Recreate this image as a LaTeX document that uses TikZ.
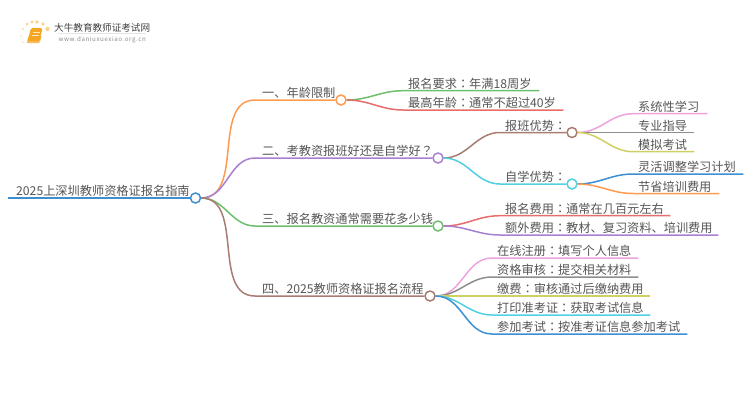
\documentclass[tikz,border=0pt]{standalone}
\usepackage{fontspec}
\setmainfont{Noto Sans CJK SC}
\newfontfamily\cjkpunct{Noto Sans CJK TC}
\usepackage{xcolor}
\usetikzlibrary{positioning}
\definecolor{mtext}{HTML}{555555}
\definecolor{mblue}{HTML}{3D8FD1}
\definecolor{morange}{HTML}{FF9B50}
\definecolor{mpurple}{HTML}{A97FD2}
\definecolor{mgreen}{HTML}{6CC06C}
\definecolor{mbrown}{HTML}{A87C70}
\definecolor{mred}{HTML}{E86C6C}
\definecolor{mpink}{HTML}{F0A2DC}
\definecolor{mgray}{HTML}{8E8E8E}
\definecolor{molive}{HTML}{CFCF62}
\definecolor{mcyan}{HTML}{52D0E2}
\definecolor{mbook}{HTML}{F5A623}
\definecolor{mdot}{HTML}{FBD38A}
\newcommand{\mcol}{{\cjkpunct ：}}
\tikzset{
  topic/.style={anchor=south west, inner xsep=7pt, inner ysep=1pt, text=mtext,
                font=\fontsize{12.2}{14}\selectfont},
  leaf/.style={anchor=south west, inner xsep=5pt, inner ysep=1pt, text=mtext,
               font=\fontsize{12.2}{14}\selectfont, text width=#1, align=left},
  dot/.style={circle, draw, fill=white, line width=1.5pt, minimum size=10pt, inner sep=0pt},
  link/.style={line width=1.5pt},
}

\begin{document}
\begin{tikzpicture}[x=1pt, y=-1pt]
  \useasboundingbox (0,0) rectangle (750,410);
  % logo
  \foreach \x/\y/\r in {27/24/1.5, 32/22/1.7, 37/22/1.8, 43/24/1.9, 47.5/29/2.2}
    \fill[mdot] (\x,\y) circle (\r);
  \foreach \x/\y/\r in {23/29/1.3, 21/36/1.2, 23/42/1}
    \fill[mdot!60] (\x,\y) circle (\r);
  \fill[mbook!75!white, rounded corners=1pt] (28.5,36) -- (42,36) -- (39.5,43) -- (26.5,43) -- cycle;
  \fill[mbook, rounded corners=1.5pt] (31,28) -- (42.5,28) -- (39.5,41) -- (27.5,41) -- cycle;
  \draw[white!70!mbook, line width=0.8pt] (32.5,32) -- (39.5,32) (32,35) -- (38.5,35);
  \node[anchor=base west, inner sep=0pt, text=black!75, font=\fontsize{9.6}{11}\selectfont] (logotitle) at (54,31) {大牛教育教师证考试网};
  \node[anchor=base west, inner sep=0pt, text=black!45, font=\fontsize{6.2}{8}\selectfont, below=4.5pt of logotitle.south, xshift=0pt] (logourl) {\addfontfeature{LetterSpace=9}www.daniuxuexiao.org.cn};
  \draw[black!10, line width=0.6pt] (logotitle.south west) ++(4,1.5) -- ++(88,0);

  % root and branch dots
  \node[topic, inner xsep=8pt] (title) at (8,198) {2025上深圳教师资格证报名指南};
  \node[dot, draw=mblue] (root) at (195.5,198) {};
  \node[dot, draw=morange] (c1) at (341,100) {};
  \node[dot, draw=mpurple] (c2) at (438,158) {};
  \node[dot, draw=mgreen] (c3) at (438,226) {};
  \node[dot, draw=mbrown] (c4) at (430,296) {};
  \node[dot, draw=mbrown] (c21) at (572,132.5) {};
  \node[dot, draw=mcyan] (c22) at (572,184) {};

  % branch labels
  \node[topic] (b1) at (255,100) {一、年龄限制};
  \node[topic] (b2) at (255,158) {二、考教资报班好还是自学好{\cjkpunct ？}};
  \node[topic] (b3) at (255,226) {三、报名教资通常需要花多少钱};
  \node[topic] (b4) at (255,296) {四、2025教师资格证报名流程};
  \node[leaf=58pt] (b21) at (500,132.5) {报班优势\mcol};
  \node[leaf=58pt] (b22) at (500,184) {自学优势\mcol};

  % leaves
  \node[leaf=126pt] (l11) at (403,90.7) {报名要求\mcol 年满18周岁};
  \node[leaf=150pt] (l12) at (403,110) {最高年龄\mcol 通常不超过40岁};
  \node[leaf=64pt] (l211) at (633,113.7) {系统性学习};
  \node[leaf=51pt] (l212) at (633,132.5) {专业指导};
  \node[leaf=51pt] (l213) at (633,151.7) {模拟考试};
  \node[leaf=100pt] (l221) at (633,174) {灵活调整学习计划};
  \node[leaf=76pt] (l222) at (633,193.5) {节省培训费用};
  \node[leaf=160pt] (l31) at (500,215.7) {报名费用\mcol 通常在几百元左右};
  \node[leaf=208pt] (l32) at (500,235) {额外费用\mcol 教材、复习资料、培训费用};
  \node[leaf=136pt] (l41) at (492,258) {在线注册\mcol 填写个人信息};
  \node[leaf=136pt] (l42) at (492,277) {资格审核\mcol 提交相关材料};
  \node[leaf=148pt] (l43) at (492,296) {缴费\mcol 审核通过后缴纳费用};
  \node[leaf=148pt] (l44) at (492,315) {打印准考证\mcol 获取考试信息};
  \node[leaf=185pt] (l45) at (492,334) {参加考试\mcol 按准考证信息参加考试};

  % connectors
  \draw[link, mblue] (title.south west) -- (root);
  \draw[link, morange] (root) to[out=0,in=180] (b1.south west) -- (c1);
  \draw[link, mpurple] (root) to[out=0,in=180] (b2.south west) -- (c2);
  \draw[link, mgreen] (root) to[out=0,in=180] (b3.south west) -- (c3);
  \draw[link, mbrown] (root) to[out=0,in=180] (b4.south west) -- (c4);
  \draw[link, mgreen] (c1) to[out=0,in=180] (l11.south west) -- (l11.south east);
  \draw[link, mred] (c1) to[out=0,in=180] (l12.south west) -- (l12.south east);
  \draw[link, mbrown] (c2) to[out=0,in=180] (b21.south west) -- (c21);
  \draw[link, mcyan] (c2) to[out=0,in=180] (b22.south west) -- (c22);
  \draw[link, mpink] (c21) to[out=0,in=180] (l211.south west) -- (l211.south east);
  \draw[link, mgray] (c21) to[out=0,in=180] (l212.south west) -- (l212.south east);
  \draw[link, molive] (c21) to[out=0,in=180] (l213.south west) -- (l213.south east);
  \draw[link, mblue] (c22) to[out=0,in=180] (l221.south west) -- (l221.south east);
  \draw[link, morange] (c22) to[out=0,in=180] (l222.south west) -- (l222.south east);
  \draw[link, mred] (c3) to[out=0,in=180] (l31.south west) -- (l31.south east);
  \draw[link, mpurple] (c3) to[out=0,in=180] (l32.south west) -- (l32.south east);
  \draw[link, mpink] (c4) to[out=0,in=180] (l41.south west) -- (l41.south east);
  \draw[link, mgray] (c4) to[out=0,in=180] (l42.south west) -- (l42.south east);
  \draw[link, molive] (c4) to[out=0,in=180] (l43.south west) -- (l43.south east);
  \draw[link, mcyan] (c4) to[out=0,in=180] (l44.south west) -- (l44.south east);
  \draw[link, mblue] (c4) to[out=0,in=180] (l45.south west) -- (l45.south east);
\end{tikzpicture}
\end{document}
